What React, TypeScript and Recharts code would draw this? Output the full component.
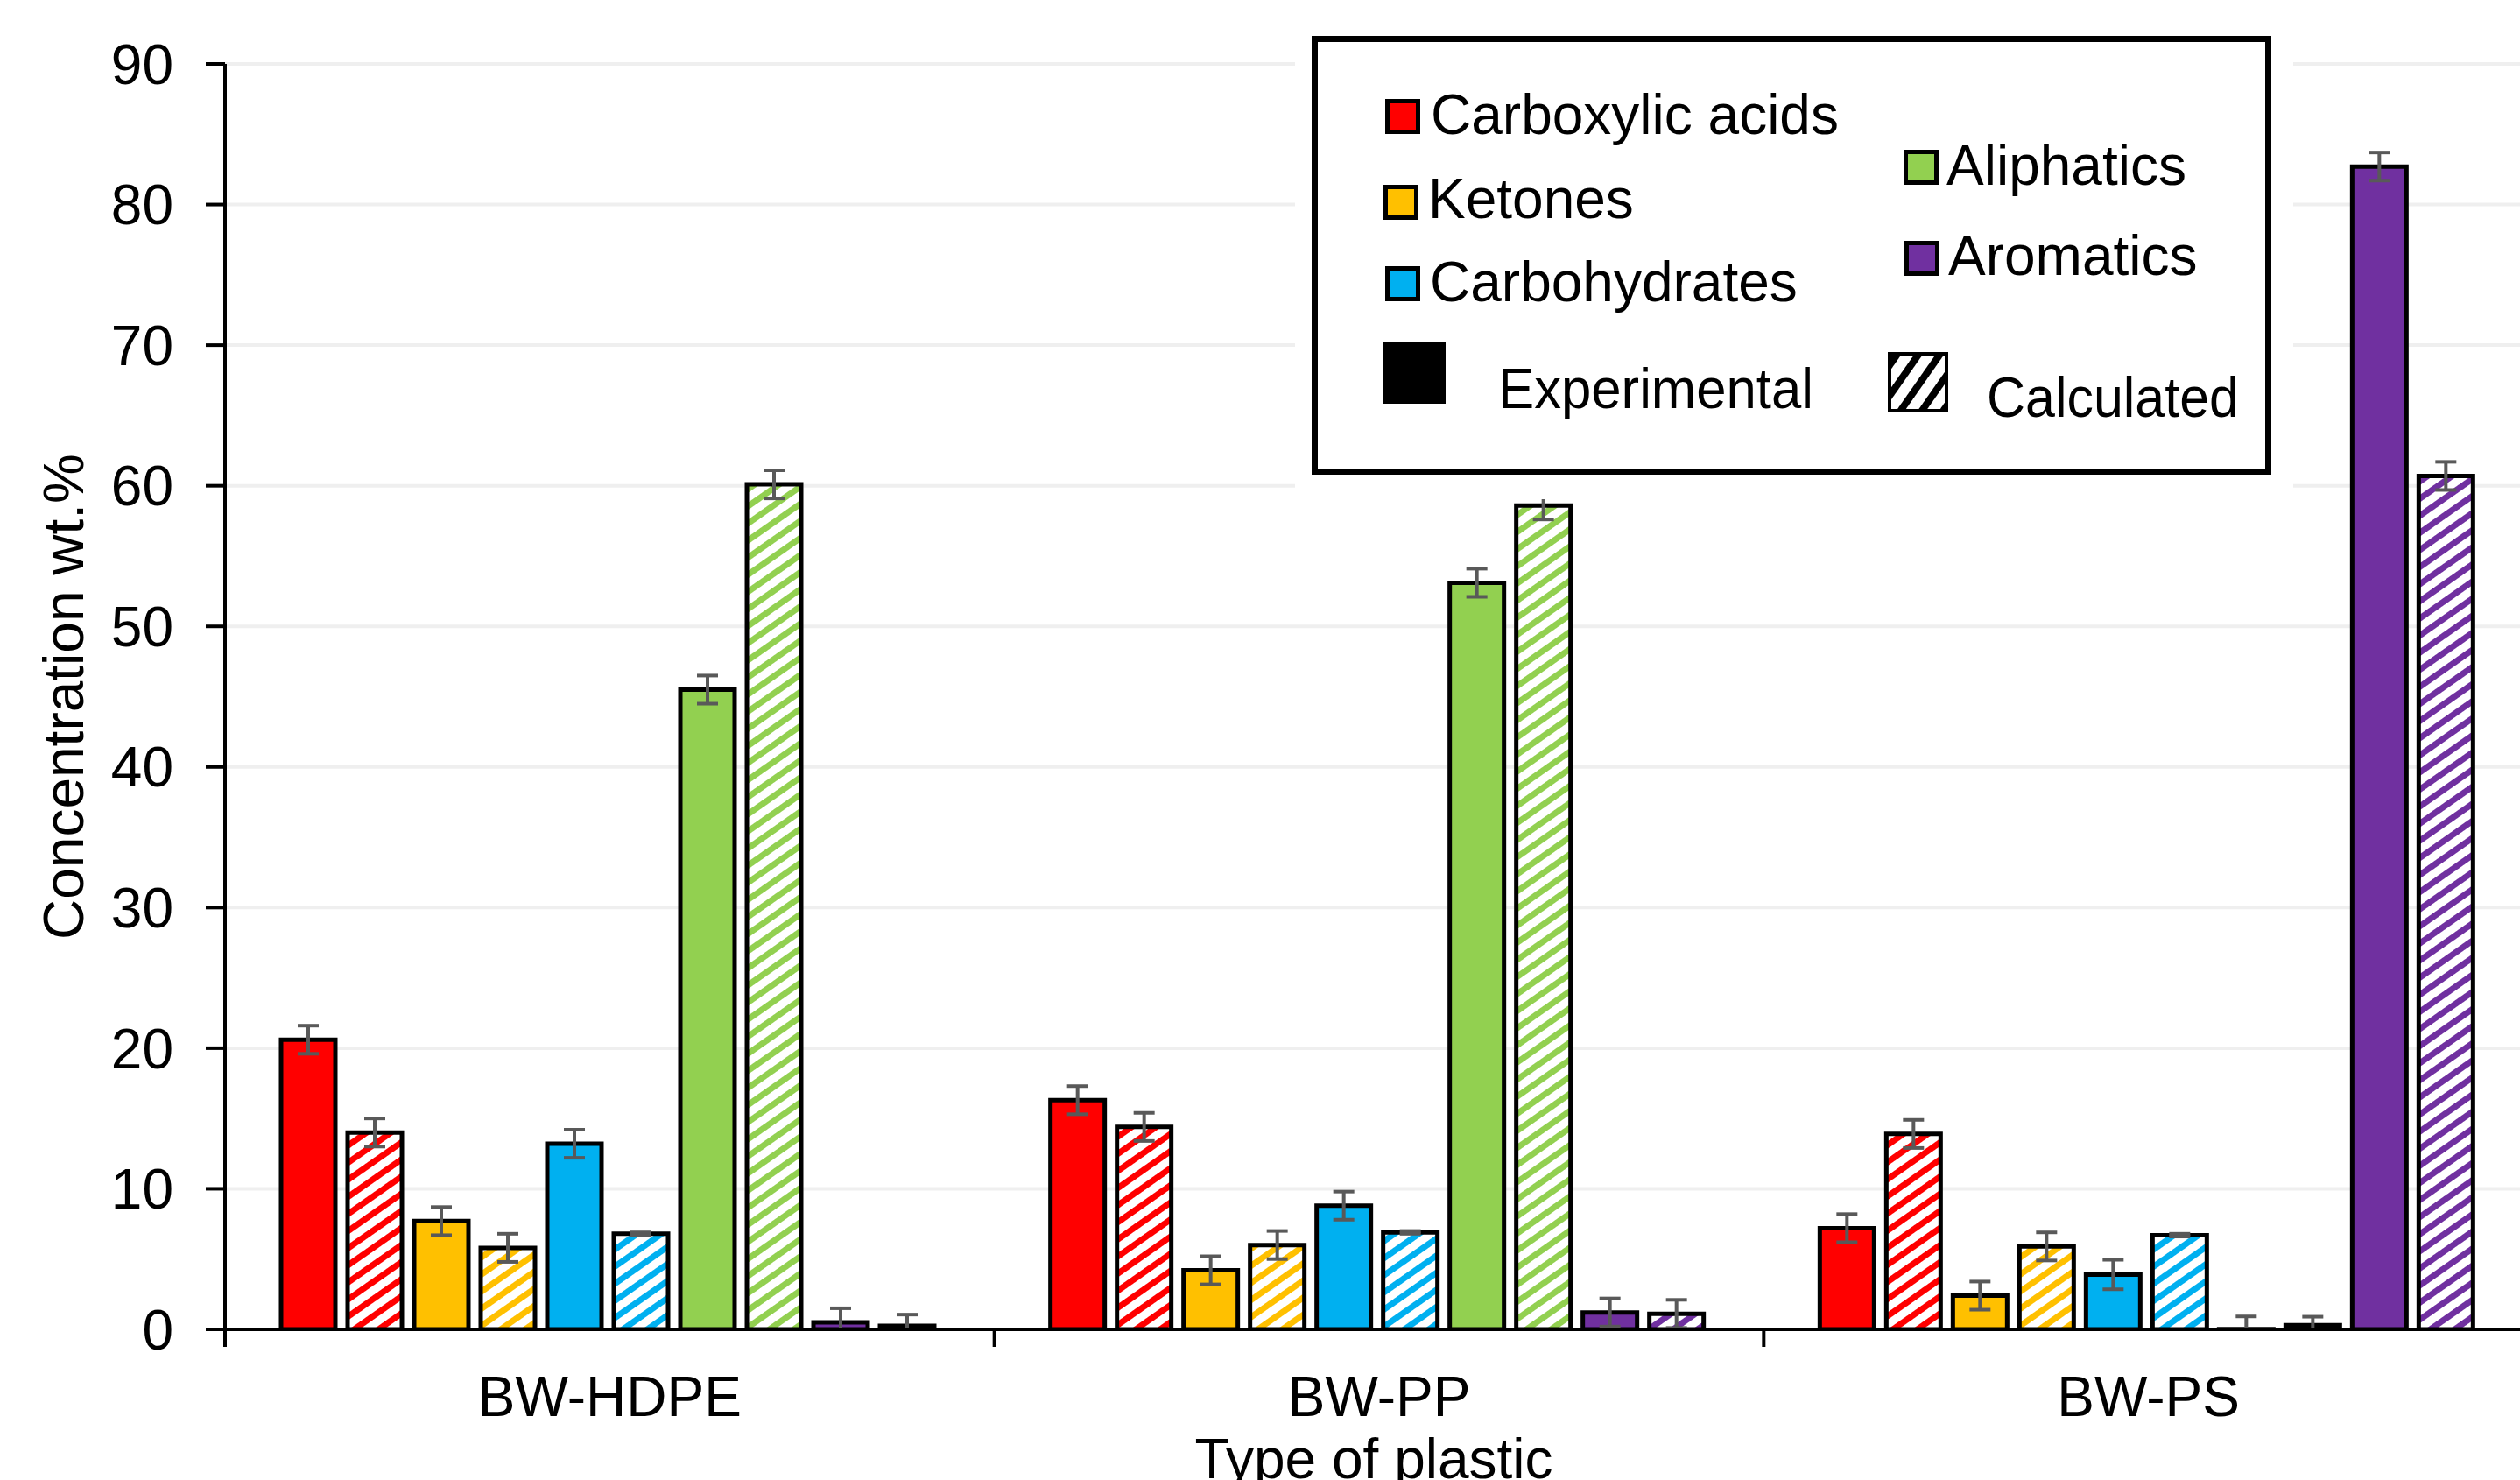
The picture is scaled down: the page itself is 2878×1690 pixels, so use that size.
import React from "react";
import { Bar, BarChart, CartesianGrid, ErrorBar, Legend, XAxis, YAxis } from "recharts";

// categories on the x axis
const categories = ["BW-HDPE", "BW-PP", "BW-PS"];

// experimental / calculated values (wt.%) and their error bars
const carboxylicExp = [20.6, 16.3, 7.2];
const carboxylicExpErr = [1.0, 1.0, 1.0];
const carboxylicCalc = [14.0, 14.4, 13.9];
const carboxylicCalcErr = [1.0, 1.0, 1.0];

const ketonesExp = [7.7, 4.2, 2.4];
const ketonesExpErr = [1.0, 1.0, 1.0];
const ketonesCalc = [5.8, 6.0, 5.9];
const ketonesCalcErr = [1.0, 1.0, 1.0];

const carbohydratesExp = [13.2, 8.8, 3.9];
const carbohydratesExpErr = [1.0, 1.0, 1.05];
const carbohydratesCalc = [6.8, 6.9, 6.7];
const carbohydratesCalcErr = [0.1, 0.1, 0.1];

const aliphaticsExp = [45.5, 53.1, 0.02];
const aliphaticsExpErr = [1.0, 1.0, 0.9];
const aliphaticsCalc = [60.1, 58.6, 0.3];
const aliphaticsCalcErr = [1.0, 1.0, 0.6];

const aromaticsExp = [0.5, 1.2, 82.7];
const aromaticsExpErr = [1.0, 1.0, 1.0];
const aromaticsCalc = [0.25, 1.1, 60.7];
const aromaticsCalcErr = [0.8, 1.0, 1.0];

const yTicks = [0, 10, 20, 30, 40, 50, 60, 70, 80, 90];

const groups = [
    { key: "carboxylic", label: "Carboxylic acids", color: "#FF0000", exp: carboxylicExp, expErr: carboxylicExpErr, calc: carboxylicCalc, calcErr: carboxylicCalcErr },
    { key: "ketones", label: "Ketones", color: "#FFC000", exp: ketonesExp, expErr: ketonesExpErr, calc: ketonesCalc, calcErr: ketonesCalcErr },
    { key: "carbohydrates", label: "Carbohydrates", color: "#00B0F0", exp: carbohydratesExp, expErr: carbohydratesExpErr, calc: carbohydratesCalc, calcErr: carbohydratesCalcErr },
    { key: "aliphatics", label: "Aliphatics", color: "#92D050", exp: aliphaticsExp, expErr: aliphaticsExpErr, calc: aliphaticsCalc, calcErr: aliphaticsCalcErr },
    { key: "aromatics", label: "Aromatics", color: "#7030A0", exp: aromaticsExp, expErr: aromaticsExpErr, calc: aromaticsCalc, calcErr: aromaticsCalcErr },
];

// error bars never go under the axis
const data = categories.map((name, i) => {
    const row: any = { name };
    groups.forEach((g) => {
        row[g.key + "Exp"] = g.exp[i];
        row[g.key + "ExpErr"] = [Math.min(g.exp[i], g.expErr[i]), g.expErr[i]];
        row[g.key + "Calc"] = g.calc[i];
        row[g.key + "CalcErr"] = [Math.min(g.calc[i], g.calcErr[i]), g.calcErr[i]];
    });
    return row;
});

const FONT = '"Liberation Sans", Arial, Helvetica, sans-serif';
const CHART_W = 2893;
const CHART_H = 1690;
const Y_AXIS_W = 257;
const BAND = (CHART_W - Y_AXIS_W) / categories.length;

function HatchPattern({ id, color }: { id: string; color: string }) {
    return (
        <pattern id={id} patternUnits="userSpaceOnUse" width="16" height="16" patternTransform="rotate(-35)">
            <rect width="16" height="16" fill="#fff" />
            <rect width="16" height="7" fill={color} />
        </pattern>
    );
}

function CategoryTick(props: any) {
    const { x, y, payload, index } = props;
    return (
        <g>
            <line x1={x - BAND / 2} x2={x - BAND / 2} y1={y} y2={y + 20} stroke="#000" strokeWidth={4} />
            {index === categories.length - 1 && (
                <line x1={x + BAND / 2} x2={x + BAND / 2} y1={y} y2={y + 20} stroke="#000" strokeWidth={4} />
            )}
            <text x={x} y={y + 99} textAnchor="middle" fontSize={64} fill="#000" fontFamily={FONT}>
                {payload.value}
            </text>
        </g>
    );
}

// legend rows: swatch box and text baseline inside the legend panel
const legendLayout = [
    { sx: 103, sy: 93, tx: 155, ty: 133 },
    { sx: 101, sy: 191, tx: 152, ty: 229 },
    { sx: 103, sy: 284, tx: 154, ty: 324 },
    { sx: 695, sy: 151, tx: 744, ty: 191 },
    { sx: 696, sy: 255, tx: 746, ty: 294 },
];

function ChartLegend() {
    return (
        <svg width={1140} height={550} style={{ display: "block" }}>
            <defs>
                <pattern id="legend-hatch" patternUnits="userSpaceOnUse" width="20" height="20" patternTransform="rotate(-55)">
                    <rect width="20" height="20" fill="#fff" />
                    <rect width="20" height="8" fill="#000" />
                </pattern>
            </defs>
            <rect x={0} y={0} width={1140} height={550} fill="#fff" />
            <rect x={22.5} y={24.5} width={1089} height={494} fill="none" stroke="#000" strokeWidth={7} />
            {groups.map((g, i) => {
                const p = legendLayout[i];
                return (
                    <g key={g.key}>
                        <rect x={p.sx + 2.5} y={p.sy + 2.5} width={35} height={35} fill={g.color} stroke="#000" strokeWidth={5} />
                        <text x={p.tx} y={p.ty} fontSize={64} fill="#000" fontFamily={FONT}>
                            {g.label}
                        </text>
                    </g>
                );
            })}
            <rect x={101} y={371} width={71} height={70} fill="#000" />
            <text x={232} y={446} fontSize={64} fill="#000" fontFamily={FONT} textLength={360} lengthAdjust="spacingAndGlyphs">
                Experimental
            </text>
            <rect x={679} y={384} width={65} height={65} fill="url(#legend-hatch)" stroke="#000" strokeWidth={4} />
            <text x={790} y={456} fontSize={64} fill="#000" fontFamily={FONT} textLength={288} lengthAdjust="spacingAndGlyphs">
                Calculated
            </text>
        </svg>
    );
}

export default function App() {
    return (
        <div
            style={{
                position: "absolute",
                left: 0,
                top: 0,
                width: 2878,
                height: 1690,
                overflow: "hidden",
                background: "#fff",
                fontFamily: FONT,
            }}
        >
            <BarChart
                width={CHART_W}
                height={CHART_H}
                data={data}
                margin={{ top: 73, right: 0, bottom: 0, left: 0 }}
                barCategoryGap={64}
                barGap={14}
            >
                <defs>
                    {groups.map((g) => (
                        <HatchPattern key={g.key} id={"hatch-" + g.key} color={g.color} />
                    ))}
                </defs>
                <CartesianGrid vertical={false} stroke="#efefef" strokeWidth={4} />
                <XAxis
                    dataKey="name"
                    height={172}
                    interval={0}
                    tickSize={0}
                    tickMargin={0}
                    tickLine={false}
                    axisLine={{ stroke: "#000", strokeWidth: 4 }}
                    tick={<CategoryTick />}
                    label={{ value: "Type of plastic", position: "insideBottom", offset: 2, dx: -6, fontSize: 64, fill: "#000" }}
                />
                <YAxis
                    width={Y_AXIS_W}
                    domain={[0, 90]}
                    ticks={yTicks}
                    allowDataOverflow
                    tickSize={22}
                    tickMargin={37}
                    axisLine={{ stroke: "#000", strokeWidth: 4 }}
                    tickLine={{ stroke: "#000", strokeWidth: 4 }}
                    tick={{ fontSize: 64, fill: "#000" }}
                    label={{
                        value: "Concentration wt.%",
                        angle: -90,
                        position: "insideLeft",
                        offset: 72,
                        fontSize: 64,
                        fill: "#000",
                        style: { textAnchor: "middle" },
                    }}
                />
                <Legend
                    layout="vertical"
                    align="center"
                    verticalAlign="middle"
                    content={<ChartLegend />}
                    wrapperStyle={{ left: 1479, top: 20, width: 1140, height: 550 }}
                />
                {groups.flatMap((g) => [
                    <Bar key={g.key + "Exp"} dataKey={g.key + "Exp"} fill={g.color} stroke="#000" strokeWidth={5} isAnimationActive={false}>
                        <ErrorBar dataKey={g.key + "ExpErr"} direction="y" width={12} stroke="#595959" strokeWidth={4} />
                    </Bar>,
                    <Bar key={g.key + "Calc"} dataKey={g.key + "Calc"} fill={"url(#hatch-" + g.key + ")"} stroke="#000" strokeWidth={5} isAnimationActive={false}>
                        <ErrorBar dataKey={g.key + "CalcErr"} direction="y" width={12} stroke="#595959" strokeWidth={4} />
                    </Bar>,
                ])}
            </BarChart>
        </div>
    );
}
